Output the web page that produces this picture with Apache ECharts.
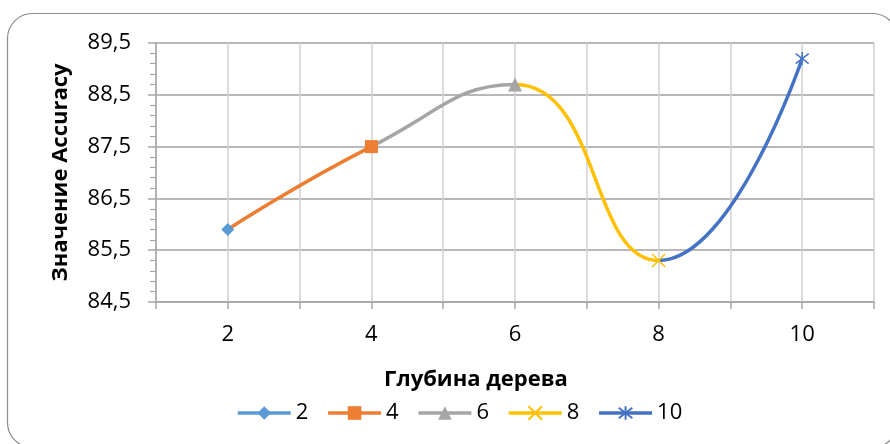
<!DOCTYPE html>
<html>
<head>
<meta charset="utf-8">
<script src="https://cdn.jsdelivr.net/npm/echarts@6/dist/echarts.min.js"></script>
<style>html,body{margin:0;padding:0;background:#fff;}#c{width:890px;height:444px;}</style>
</head>
<body>
<div id="c"></div>
<script>
// Data
const depths = [2, 4, 6, 8, 10];
const accuracy = [85.9, 87.5, 88.7, 85.3, 89.2];
const seriesNames = ['2', '4', '6', '8', '10'];
const xTickLabels = ['2', '4', '6', '8', '10'];
const yTickLabels = ['84,5', '85,5', '86,5', '87,5', '88,5', '89,5'];
const xTitle = 'Глубина дерева';
const yTitle = 'Значение Accuracy';

const colors = ['#5B9BD5', '#ED7D31', '#A5A5A5', '#FFC000', '#4472C4'];
const symbols = [
  'diamond',
  'rect',
  'triangle',
  'path://M0,0L10,10M10,0L0,10',
  'path://M0,0L10,10M10,0L0,10M5,-1.5L5,11.5'
];
const symbolSizes = [13, 13, 14, 13, 13];
const FONT = '"Open Sans", sans-serif';

const chart = echarts.init(document.getElementById('c'), null, {renderer: 'canvas'});

const curveData = depths.map((d, i) => [d, accuracy[i]]);

const markerSeries = seriesNames.map((name, i) => {
  const isStroke = i >= 3;
  return {
    name: name,
    type: 'line',
    data: [[depths[i], accuracy[i]]],
    symbol: symbols[i],
    symbolSize: symbolSizes[i],
    showSymbol: true,
    z: 5 + i,
    lineStyle: {color: colors[i], width: 3},
    itemStyle: isStroke
      ? {color: 'rgba(0,0,0,0)', borderColor: colors[i], borderWidth: 1.5}
      : {color: colors[i], borderWidth: 0},
    emphasis: {disabled: true}
  };
});

const option = {
  animation: false,
  backgroundColor: '#fff',
  textStyle: {fontFamily: FONT},
  graphic: [{
    type: 'rect',
    shape: {x: 7.5, y: 13.5, width: 890, height: 434, r: 25},
    style: {fill: 'none', stroke: '#8c8c8c', lineWidth: 1.2},
    z: -10
  }],
  grid: {left: 156, top: 43, right: 16, bottom: 142, containLabel: false},
  xAxis: {
    type: 'value',
    min: 1, max: 11, interval: 1,
    name: xTitle,
    nameLocation: 'middle',
    nameGap: 67,
    nameTextStyle: {fontFamily: FONT, fontSize: 22, fontWeight: 'bold', color: '#000', padding: [0, 78, 0, 0]},
    axisLine: {show: true, onZero: false, lineStyle: {color: '#a6a6a6', width: 1.5}},
    axisTick: {show: true, length: 7, lineStyle: {color: '#a6a6a6', width: 1.5}},
    axisLabel: {
      fontFamily: FONT, fontSize: 22, color: '#000', margin: 22,
      formatter: v => { const idx = depths.indexOf(v); return idx >= 0 ? xTickLabels[idx] : ''; }
    },
    splitLine: {show: true, lineStyle: {color: '#d0d0d0', width: 1.5}}
  },
  yAxis: {
    type: 'value',
    min: 84.5, max: 89.5, interval: 1,
    name: yTitle,
    nameLocation: 'middle',
    nameGap: 84,
    nameRotate: 90,
    nameTextStyle: {fontFamily: FONT, fontSize: 22, fontWeight: 'bold', color: '#000'},
    axisLine: {show: true, lineStyle: {color: '#a6a6a6', width: 1.5}},
    axisTick: {show: true, length: 8, lineStyle: {color: '#a6a6a6', width: 1.5}},
    minorTick: {show: true, splitNumber: 5, length: 6, lineStyle: {color: '#a6a6a6', width: 1.2}},
    axisLabel: {
      fontFamily: FONT, fontSize: 22, color: '#000', margin: 25,
      formatter: v => {
        const i = Math.round(v - 84.5);
        return (Math.abs(v - 84.5 - i) < 1e-6 && yTickLabels[i]) ? yTickLabels[i] : '';
      }
    },
    splitLine: {show: true, lineStyle: {color: '#a0a0a0', width: 1.5}}
  },
  legend: {
    data: seriesNames,
    left: 231, top: 397,
    itemWidth: 53, itemHeight: 17, itemGap: 18,
    lineStyle: {width: 3.5},
    textStyle: {fontFamily: FONT, fontSize: 22, color: '#000'},
    selectedMode: false
  },
  visualMap: {
    show: false,
    type: 'piecewise',
    seriesIndex: 0,
    dimension: 0,
    pieces: [
      {gte: 2, lte: 4, color: colors[1]},
      {gt: 4, lte: 6, color: colors[2]},
      {gt: 6, lte: 8, color: colors[3]},
      {gt: 8, lte: 10, color: colors[4]}
    ]
  },
  series: [{
    name: 'curve',
    type: 'line',
    data: curveData,
    smooth: 0.5,
    showSymbol: false,
    symbol: 'none',
    lineStyle: {width: 3.5},
    z: 3,
    emphasis: {disabled: true}
  }].concat(markerSeries)
};

chart.setOption(option);
</script>
</body>
</html>
